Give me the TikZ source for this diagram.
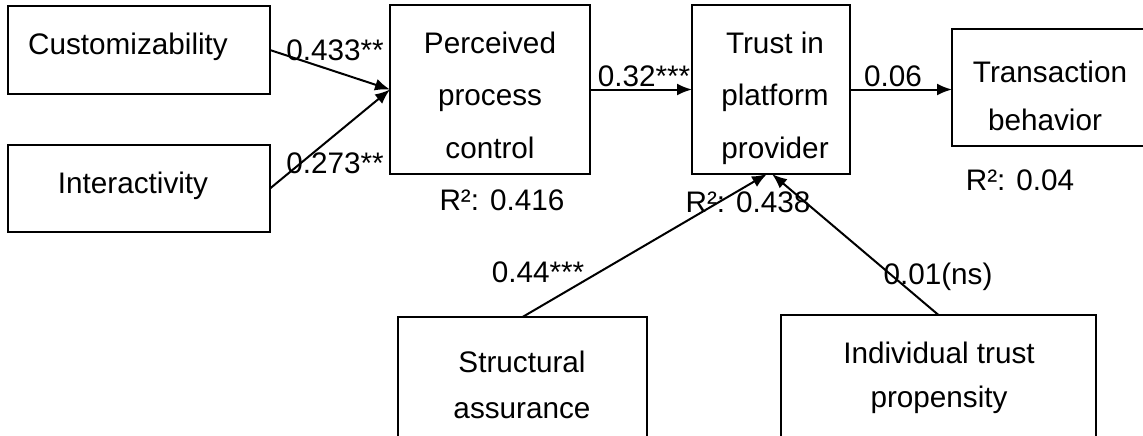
\documentclass[tikz,border=0pt]{standalone}
\usepackage{fontspec}
\setmainfont{Liberation Sans}
\usetikzlibrary{arrows.meta}
\begin{document}
\begin{tikzpicture}[x=0.5pt,y=-0.5pt,
  box/.style={draw=black,line width=0.65pt,inner sep=0pt,outer sep=0pt,fill=none},
  txt/.style={anchor=base,inner sep=0pt,font=\fontsize{14.85pt}{18pt}\selectfont},
  arr/.style={line width=1pt,-{Latex[length=7.5pt,width=6pt]}}]
\useasboundingbox (0,0) rectangle (1143,435);
\clip (0,0) rectangle (1143,435);
\fill[white] (0,0) rectangle (1143,435);
% boxes
\node[box,minimum width=131pt,minimum height=44pt] (cust) at (139,50) {};
\node[box,minimum width=131pt,minimum height=43.5pt] (inter) at (139,188.5) {};
\node[box,minimum width=100pt,minimum height=84.5pt] (ppc) at (490,89.5) {};
\node[box,minimum width=79pt,minimum height=84.5pt] (trust) at (771,89.5) {};
\node[box,minimum width=109pt,minimum height=58.5pt] (trans) at (1061,87.5) {};
\node[box,minimum width=124.5pt,minimum height=71.5pt] (struc) at (522.5,388.5) {};
\node[box,minimum width=157.5pt,minimum height=72.5pt] (indiv) at (938.5,387.5) {};
% box texts
\node[txt] (tcust) at (128,54) {Customizability};
\node[txt] (tinter) at (133,193) {Interactivity};
\node[txt] (tppc1) at (490,53) {Perceived};
\node[txt] (tppc2) at (490,105) {process};
\node[txt] (tppc3) at (490,158) {control};
\node[txt] (ttr1) at (775,53) {Trust in};
\node[txt] (ttr2) at (775,105) {platform};
\node[txt] (ttr3) at (775,158) {provider};
\node[txt] (ttx1) at (1050,82) {Transaction};
\node[txt] (ttx2) at (1045,130) {behavior};
\node[txt] (tst1) at (522,372) {Structural};
\node[txt] (tst2) at (522,418) {assurance};
\node[txt] (tin1) at (939,363) {Individual trust};
\node[txt] (tin2) at (939,407) {propensity};
% R squared
\node[txt] (r1) at (502,210) {R²: 0.416};
\node[txt] (r2) at (748,212) {R²: 0.438};
\node[txt] (r3) at (1020,190) {R²: 0.04};
% connectors
\draw[arr] (cust.east) -- (ppc.west);
\draw[arr] (inter.east) -- (ppc.west);
\draw[arr] (ppc.east) -- (trust.west);
\draw[arr] (trust.east) -- (trust.east -| trans.west);
\draw[arr] (struc.north) -- ([xshift=-2pt]trust.south);
\draw[arr] (indiv.north) -- ([xshift=0.5pt]trust.south);
% path labels
\node[txt] (l1) at (335,60) {0.433**};
\node[txt] (l2) at (335,173) {0.273**};
\node[txt] (l3) at (644,86) {0.32***};
\node[txt] (l4) at (893,86) {0.06};
\node[txt] (l5) at (538,282) {0.44***};
\node[txt] (l6) at (938,284) {0.01(ns)};
\end{tikzpicture}
\end{document}
